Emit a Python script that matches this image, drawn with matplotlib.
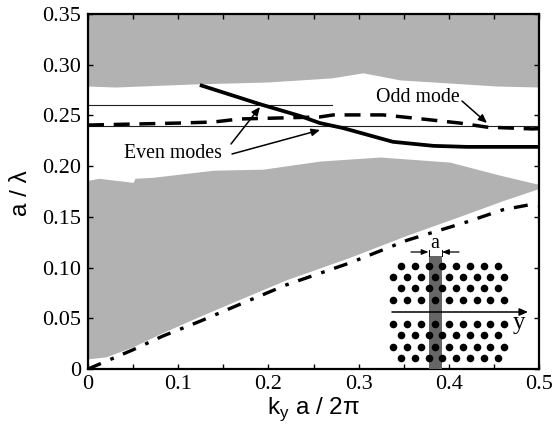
import matplotlib
matplotlib.use("Agg")
import matplotlib.pyplot as plt
import numpy as np
from matplotlib.ticker import MultipleLocator, FuncFormatter

plt.rcParams['font.family'] = ['Liberation Serif', 'DejaVu Serif']
plt.rcParams['mathtext.fontset'] = 'custom'
plt.rcParams['mathtext.rm'] = 'Liberation Sans'

# Gap-map boundaries (ky, a/lambda)
upper_k = [0, .03, .1165, .2, .27, .305, .346, .40, .453, .5]
upper_v = [.279, .278, .281, .283, .287, .292, .285, .282, .279, .278]
lower_top_k = [0, .012, .05, .052, .072, .139, .194, .257, .324, .401, .457, .5]
lower_top_v = [.186, .188, .184, .188, .189, .196, .197, .205, .209, .204, .191, .182]
lower_bot_k = [0, .02, .05, .083, .124, .161, .22, .29, .354, .42, .46, .5]
lower_bot_v = [.01, .012, .022, .036, .052, .066, .088, .11, .132, .153, .166, .178]

# Guided modes and light line
solid_k = [.124, .191, .235, .257, .283, .338, .383, .42, .5]
solid_v = [.28, .261, .2495, .2425, .2375, .224, .22, .219, .219]
dashed_k = [0, .102, .139, .168, .213, .257, .272, .327, .36, .412, .442, .493, .5]
dashed_v = [.2405, .2425, .2435, .2465, .2475, .2485, .2505, .2505, .2475, .2425, .2385, .2367, .237]
dashdot_k = [0, .05, .083, .124, .161, .22, .29, .354, .42, .46, .49, .5]
dashdot_v = [0, .019, .0325, .047, .061, .083, .1045, .127, .145, .157, .162, .161]

# Mode cut-off guide lines
guide_levels = [.26, .24]
guide_ends = [.27, .5]

# Inset lattice, in figure pixels
row_a_x = [401, 415, 428.7, 442.3, 456, 470, 484, 498]
row_b_x = [393.3, 407.3, 421, 435, 448.7, 462.7, 476.7, 490.3, 504.3]
rows_y = [265.7, 276.7, 288, 300, 323.7, 335, 346.7, 358]
rows_kind = ['a', 'b', 'a', 'b', 'b', 'a', 'b', 'a']

GREY = '#b2b2b2'
W, H = 555, 430
fig = plt.figure(figsize=(W / 100, H / 100), dpi=100)
L, R, T, B = 88, 539, 14, 369
ax = fig.add_axes([L / W, 1 - B / H, (R - L) / W, (B - T) / H])

ax.fill_between(upper_k, upper_v, .35, color=GREY, lw=0)
kk = sorted(set(lower_top_k + lower_bot_k))
ax.fill_between(kk, np.interp(kk, lower_bot_k, lower_bot_v),
                np.interp(kk, lower_top_k, lower_top_v), color=GREY, lw=0)

for lvl, end in zip(guide_levels, guide_ends):
    ax.plot([0, end], [lvl, lvl], color='#222222', lw=0.8)
ax.plot(solid_k, solid_v, color='k', lw=2.7, solid_capstyle='butt')
ax.plot(dashed_k, dashed_v, color='k', lw=2.5, dashes=(4.6, 2.8))
ax.plot(dashdot_k, dashdot_v, color='k', lw=2.4, dashes=(4.2, 3.1, 1.1, 3.0))

ax.set_xlim(0, .5)
ax.set_ylim(0, .35)
ax.xaxis.set_major_locator(MultipleLocator(.05))
ax.yaxis.set_major_locator(MultipleLocator(.05))
ax.xaxis.set_major_formatter(FuncFormatter(
    lambda v, p: '0' if abs(v) < 1e-9 else (f'{v:.1f}' if round(v * 100) % 10 == 0 else '')))
ax.yaxis.set_major_formatter(FuncFormatter(
    lambda v, p: '0' if abs(v) < 1e-9 else f'{v:.2f}'))
ax.tick_params(which='major', direction='in', length=3.5, width=1, top=True, right=True,
               labelsize=16)
ax.tick_params(axis='x', pad=4)
ax.tick_params(axis='y', pad=5)
for s in ax.spines.values():
    s.set_linewidth(1.6)

sans = ['Liberation Sans', 'DejaVu Sans']
fig.text(314 / W, 1 - 409 / H, r'k$_{\mathrm{y}}$ a / 2π', ha='center', va='center',
         fontsize=17.5, family=sans)
fig.text(21 / W, 1 - 193 / H, 'a / λ', rotation=90, ha='center', va='center',
         fontsize=17.5, family=sans)

# Full-figure pixel overlay for annotations and inset
ov = fig.add_axes([0, 0, 1, 1], facecolor='none')
ov.set_xlim(0, W)
ov.set_ylim(H, 0)
ov.axis('off')

ov.text(173, 154, 'Even modes', ha='center', va='center', fontsize=14.3)
ov.text(418, 97, 'Odd mode', ha='center', va='center', fontsize=14.3)
arrow = dict(arrowstyle='-|>,head_width=0.22,head_length=0.5', color='k', lw=1.1, shrinkA=0, shrinkB=0)
ov.annotate('', xy=(260, 107), xytext=(231, 144), arrowprops=arrow)
ov.annotate('', xy=(320, 130), xytext=(232, 154), arrowprops=arrow)
ov.annotate('', xy=(487, 123), xytext=(462, 101), arrowprops=arrow)

ov.fill_between([428.5, 442.3], 255.5, 369, color='#666666', lw=0)
for y, kind in zip(rows_y, rows_kind):
    xs = row_a_x if kind == 'a' else row_b_x
    ov.scatter(xs, [y] * len(xs), s=30, color='k', lw=0, zorder=3)
ov.annotate('', xy=(528, 312), xytext=(392, 312),
            arrowprops=dict(arrowstyle='-|>,head_width=0.22,head_length=0.5', color='k', lw=1.1, shrinkA=0, shrinkB=0))
ov.text(519, 323, 'y', ha='center', va='center', fontsize=18)
ov.text(435, 243, 'a', ha='center', va='center', fontsize=14.5)
small = dict(arrowstyle='-|>,head_width=0.16,head_length=0.4', color='k', lw=0.9, shrinkA=0, shrinkB=0)
ov.annotate('', xy=(428.5, 252), xytext=(411, 252), arrowprops=small)
ov.annotate('', xy=(442, 252), xytext=(459, 252), arrowprops=small)
ov.plot([428.5, 428.5], [250, 256], color='k', lw=0.7)
ov.plot([442, 442], [250, 256], color='k', lw=0.7)

fig.savefig('out.png', dpi=100)
